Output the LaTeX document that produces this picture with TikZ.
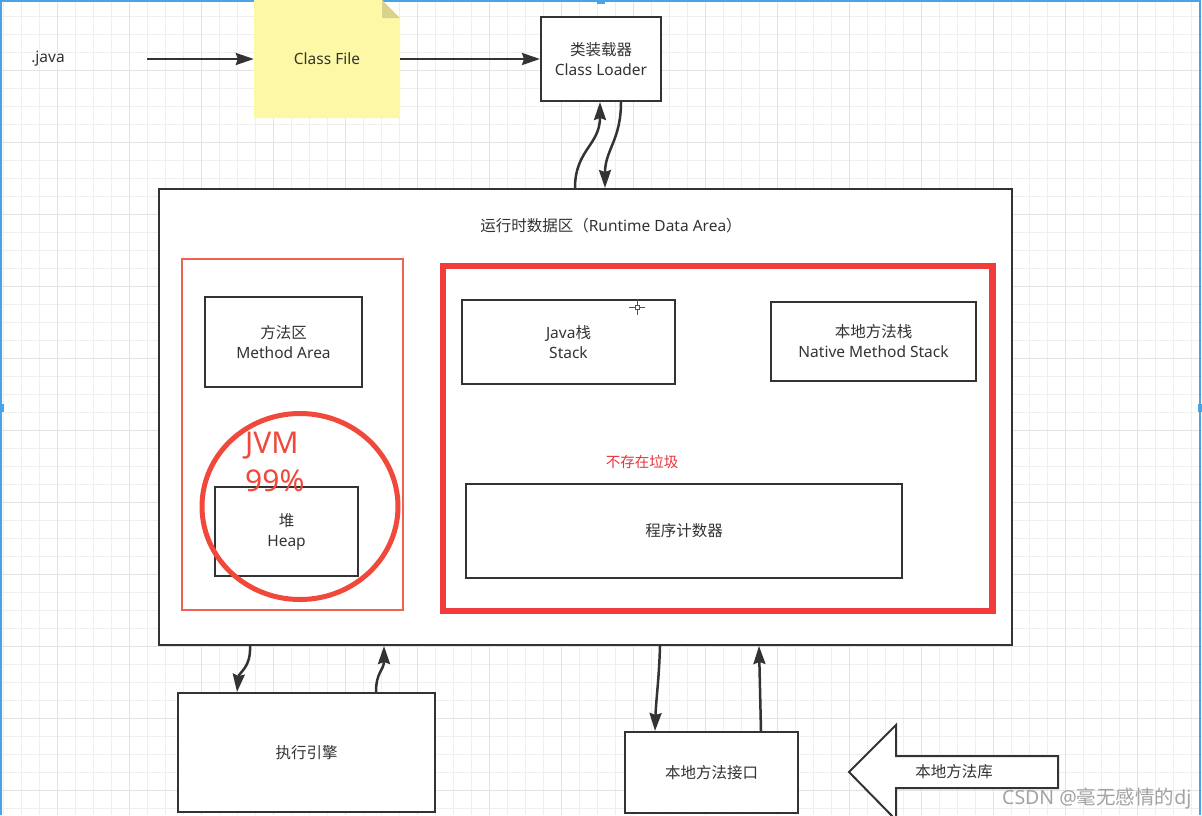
\documentclass[tikz,border=0pt]{standalone}
\usepackage{fontspec}
\setmainfont{Noto Sans}
\newfontfamily\cjk{Noto Sans CJK SC}
\usetikzlibrary{arrows.meta}
\definecolor{linec}{HTML}{333333}
\definecolor{textc}{HTML}{333333}
\definecolor{gridminor}{HTML}{EFEFEF}
\definecolor{gridmajor}{HTML}{E3E3E3}
\definecolor{noteyellow}{HTML}{FDF8A6}
\definecolor{notefold}{HTML}{D8D38C}
\definecolor{redthick}{HTML}{F23B3B}
\definecolor{redthin}{HTML}{EE6252}
\definecolor{redcircle}{HTML}{F0483A}
\definecolor{redtext}{HTML}{E8343C}
\definecolor{selblue}{HTML}{4AA3E6}
\definecolor{wmark}{HTML}{A3A3A3}
\definecolor{cursorc}{HTML}{2E5E6E}
\tikzset{
  mainsz/.style={font=\fontsize{15.5}{20}\selectfont},
  box/.style={draw=linec, line width=2pt, fill=white, rectangle, inner sep=0pt,
    align=center, text=textc, mainsz},
  lbl/.style={inner sep=0pt, align=center, text=textc, mainsz},
  conn/.style={draw=linec, line width=2.5pt,
    -{Stealth[length=18pt,width=12pt,inset=2pt]}},
}
\begin{document}
\begin{tikzpicture}[x=1pt,y=-1pt]
\useasboundingbox (0,0) rectangle (1202,815);
\fill[white] (0,0) rectangle (1202,815);
% grid
\foreach \i in {0,...,66} {\draw[gridminor, line width=1pt] ({3.7+18*\i},0) -- ({3.7+18*\i},815);}
\foreach \i in {0,...,44} {\draw[gridminor, line width=1pt] (0,{16.7+18*\i}) -- (1202,{16.7+18*\i});}
\foreach \i in {3,7,...,66} {\draw[gridmajor, line width=1pt] ({3.7+18*\i},0) -- ({3.7+18*\i},815);}
\foreach \i in {3,7,...,44} {\draw[gridmajor, line width=1pt] (0,{16.7+18*\i}) -- (1202,{16.7+18*\i});}
% selection frame
\draw[selblue, line width=2pt] (1,815) -- (1,1) -- (1200,1) -- (1200,815);
\fill[selblue] (0,404) rectangle (4,412);
\fill[selblue] (1198,404) rectangle (1202,412);
\fill[selblue] (597,0) rectangle (605,4);

% .java
\node[lbl] (java) at (48,59) {.java};
% Class File note
\fill[noteyellow] (254,0) -- (382,0) -- (400,18) -- (400,118) -- (254,118) -- cycle;
\fill[notefold] (382,0) -- (400,18) -- (382,18) -- cycle;
\node[lbl, minimum width=146pt, minimum height=118pt] (cf) at (327,59) {Class File};
% Class loader
\node[box, minimum width=120pt, minimum height=84pt] (cl) at (601,59) {{\cjk 类装载器}\\Class Loader};

\draw[conn] (147,59) -- (cf.west);
\draw[conn] (cf.east) -- (cl.west);

% Runtime data area
\node[box, minimum width=853pt, minimum height=456pt] (rt) at (585.5,417) {};
\node[lbl] (rtt) at (611,226) {{\cjk 运行时数据区（}Runtime Data Area{\cjk ）}};

% loader arrows
\draw[conn] ([xshift=-10.5pt]rt.north) .. controls (575,150) and (600,145) .. ([xshift=-1pt]cl.south);
\draw[conn] ([xshift=20pt]cl.south) .. controls (621,140) and (605,150) .. ([xshift=19.5pt]rt.north);

% left red area
\draw[redthin, line width=2pt] (181.5,259) rectangle (403,610);
\node[box, minimum width=157pt, minimum height=90pt] (ma) at (283.5,342) {{\cjk 方法区}\\Method Area};
\node[box, minimum width=143pt, minimum height=89pt] (heap) at (286.5,531.5) {{\cjk 堆}\\Heap};
\draw[redcircle, line width=5pt] (300,506.5) ellipse [x radius=98pt, y radius=93pt];
\node[inner sep=0pt, anchor=base west, text=redcircle, font=\fontsize{30}{36}\selectfont] (jvm) at (245,453) {JVM};
\node[inner sep=0pt, anchor=base west, text=redcircle, font=\fontsize{30}{36}\selectfont] (pct) at (245,491) {99\%};

% right red area
\draw[redthick, line width=6.5pt] (443,266) rectangle (992.5,611);
\node[box, minimum width=213pt, minimum height=84pt] (js) at (568.5,342) {Java{\cjk 栈}\\Stack};
\node[box, minimum width=205pt, minimum height=79pt] (nms) at (873.5,341.5) {{\cjk 本地方法栈}\\Native Method Stack};
\node[inner sep=0pt, text=redtext, font=\cjk\fontsize{14.5}{18}\selectfont] (nogc) at (642,462) {不存在垃圾};
\node[box, minimum width=436pt, minimum height=94pt] (pc) at (684,531) {{\cjk 程序计数器}};

% cursor
\draw[cursorc, line width=0.8pt] (637,299) -- (637,315) (629,307) -- (645,307);
\draw[draw=cursorc, fill=white, line width=0.8pt] (635,305) rectangle (639,309);

% execution engine
\node[box, minimum width=257pt, minimum height=119pt] (ee) at (306.5,752.5) {{\cjk 执行引擎}};
\draw[conn] ([xshift=-335.5pt]rt.south) .. controls (251,668) and (239,672) .. ([xshift=-69.5pt]ee.north);
\draw[conn] ([xshift=69.5pt]ee.north) .. controls (376,672) and (384,670) .. ([xshift=-201.5pt]rt.south);

% native interface
\node[box, minimum width=173pt, minimum height=81pt] (ni) at (711.5,772.5) {{\cjk 本地方法接口}};
\draw[conn] ([xshift=74.5pt]rt.south) .. controls (659,680) and (656,700) .. ([xshift=-56.5pt]ni.north);
\draw[conn] ([xshift=49.5pt]ni.north) -- ([xshift=173.5pt]rt.south);

% native library big arrow
\draw[linec, line width=2pt, fill=white] (849,772) -- (896,725) -- (896,756) -- (1058,756) -- (1058,788) -- (896,788) -- (896,820) -- cycle;
\node[lbl] (nl) at (954,772) {{\cjk 本地方法库}};

% watermark
\node[inner sep=0pt, anchor=base west, text=wmark, font=\fontsize{19.5}{22}\selectfont] (wm) at (1002,804) {CSDN @{\cjk 毫无感情的}dj};
\end{tikzpicture}
\end{document}
